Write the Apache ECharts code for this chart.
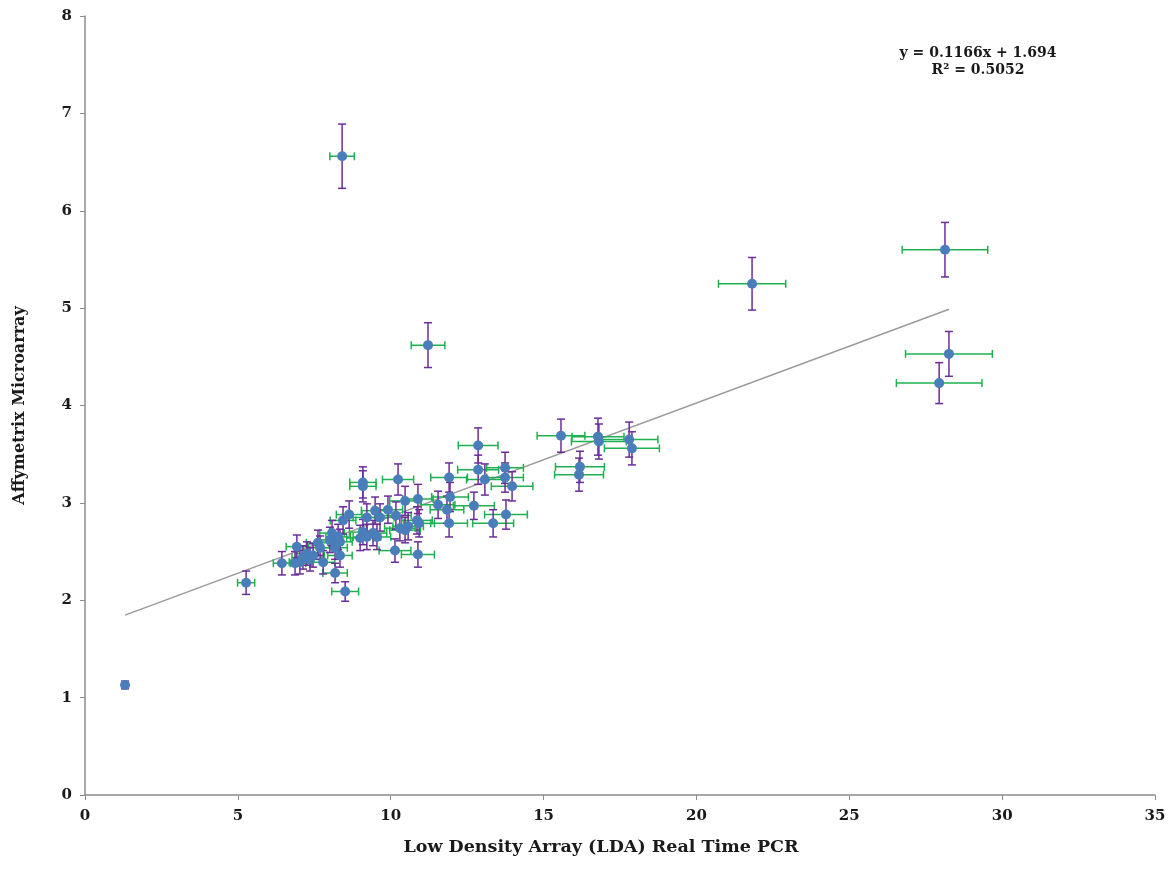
<!DOCTYPE html>
<html>
<head>
<meta charset="utf-8">
<script src="https://cdn.jsdelivr.net/npm/echarts@6/dist/echarts.min.js"></script>
<style>
  html, body { margin: 0; padding: 0; background: #fff; }
  #main { width: 1171px; height: 875px; }
</style>
</head>
<body>
<div id="main"></div>
<script>
// LDA real time PCR (x) vs Affymetrix microarray (y), with error bars
var ldaValues = [1.31, 5.27, 8.41, 11.22, 21.82, 28.13, 28.26, 27.94, 15.57, 16.78,
  16.81, 17.80, 17.89, 16.19, 16.16, 12.86, 12.86, 13.08, 13.74, 13.74,
  13.97, 11.91, 11.94, 11.55, 11.84, 12.72, 13.77, 11.91, 13.35, 10.93,
  10.89, 6.44, 6.93, 8.18, 8.51, 9.09, 9.09, 10.24, 10.47, 10.89,
  9.49, 9.22, 8.64, 8.44, 9.91, 10.17, 10.47, 10.86, 10.57, 9.42,
  9.22, 9.55, 9.00, 8.08, 8.28, 8.34, 8.01, 7.62, 7.69, 7.26,
  7.13, 7.46, 7.03, 6.87, 7.36, 7.79, 8.18, 8.34, 10.14, 9.65,
  10.30, 9.09];
var microValues = [1.13, 2.18, 6.56, 4.62, 5.25, 5.60, 4.53, 4.23, 3.69, 3.68,
  3.63, 3.65, 3.56, 3.37, 3.29, 3.59, 3.34, 3.24, 3.36, 3.26,
  3.17, 3.26, 3.06, 2.98, 2.93, 2.97, 2.88, 2.79, 2.79, 2.79,
  2.47, 2.38, 2.55, 2.28, 2.09, 3.21, 3.17, 3.24, 3.02, 3.04,
  2.92, 2.85, 2.88, 2.82, 2.93, 2.87, 2.72, 2.82, 2.76, 2.69,
  2.65, 2.65, 2.64, 2.69, 2.65, 2.60, 2.62, 2.59, 2.54, 2.48,
  2.44, 2.46, 2.39, 2.38, 2.42, 2.39, 2.54, 2.46, 2.51, 2.85,
  2.74, 2.70];
var ldaErrors = [0.05, 0.28, 0.40, 0.55, 1.10, 1.40, 1.42, 1.40, 0.78, 0.85,
  0.90, 0.94, 0.90, 0.80, 0.80, 0.65, 0.67, 0.60, 0.60, 0.60,
  0.68, 0.60, 0.60, 0.55, 0.55, 0.67, 0.70, 0.60, 0.67, 0.50,
  0.54, 0.28, 0.35, 0.40, 0.44, 0.43, 0.43, 0.51, 0.50, 0.50,
  0.45, 0.45, 0.42, 0.42, 0.48, 0.50, 0.50, 0.50, 0.50, 0.45,
  0.45, 0.45, 0.44, 0.40, 0.40, 0.40, 0.40, 0.38, 0.38, 0.36,
  0.36, 0.37, 0.35, 0.35, 0.36, 0.38, 0.40, 0.40, 0.52, 0.46,
  0.50, 0.44];
var microErrors = [0.04, 0.12, 0.33, 0.23, 0.27, 0.28, 0.23, 0.21, 0.17, 0.19,
  0.18, 0.18, 0.17, 0.16, 0.17, 0.18, 0.15, 0.16, 0.16, 0.15,
  0.15, 0.15, 0.15, 0.14, 0.14, 0.14, 0.15, 0.14, 0.14, 0.14,
  0.13, 0.12, 0.12, 0.10, 0.10, 0.16, 0.16, 0.16, 0.15, 0.15,
  0.14, 0.14, 0.14, 0.14, 0.14, 0.14, 0.13, 0.14, 0.14, 0.13,
  0.13, 0.13, 0.13, 0.13, 0.13, 0.13, 0.13, 0.13, 0.12, 0.12,
  0.12, 0.12, 0.12, 0.12, 0.12, 0.12, 0.12, 0.12, 0.12, 0.14,
  0.13, 0.13];
// linear trendline end points
var trendX = [1.31, 28.26];
var trendY = [1.847, 4.989];
var equationLines = ["y = 0.1166x + 1.694", "R\u00b2 = 0.5052"];

var FONT = "'DejaVu Serif', serif";
var GREEN = "#1fb04f";
var PURPLE = "#6a2d9a";

var points = ldaValues.map(function (x, i) { return [x, microValues[i]]; });
var xErrData = ldaValues.map(function (x, i) { return [x, microValues[i], ldaErrors[i]]; });
var yErrData = ldaValues.map(function (x, i) { return [x, microValues[i], microErrors[i]]; });

// error bar with end caps, horizontal (LDA) or vertical (microarray)
function errItem(horizontal, color) {
  return function (params, api) {
    var x = api.value(0), y = api.value(1), e = api.value(2);
    var a = horizontal ? api.coord([x - e, y]) : api.coord([x, y - e]);
    var b = horizontal ? api.coord([x + e, y]) : api.coord([x, y + e]);
    var cap = 4;
    var st = { stroke: color, lineWidth: 1.5 };
    var capA, capB;
    if (horizontal) {
      capA = { x1: a[0], y1: a[1] - cap, x2: a[0], y2: a[1] + cap };
      capB = { x1: b[0], y1: b[1] - cap, x2: b[0], y2: b[1] + cap };
    } else {
      capA = { x1: a[0] - cap, y1: a[1], x2: a[0] + cap, y2: a[1] };
      capB = { x1: b[0] - cap, y1: b[1], x2: b[0] + cap, y2: b[1] };
    }
    return {
      type: "group",
      children: [
        { type: "line", shape: { x1: a[0], y1: a[1], x2: b[0], y2: b[1] }, style: st },
        { type: "line", shape: capA, style: st },
        { type: "line", shape: capB, style: st }
      ]
    };
  };
}

var chart = echarts.init(document.getElementById("main"));
var option = {
  backgroundColor: "#fff",
  animation: false,
  grid: { left: 85, right: 16, top: 16, bottom: 80, containLabel: false },
  xAxis: {
    type: "value",
    min: 0, max: 35, interval: 5,
    name: "Low Density Array (LDA) Real Time PCR",
    nameLocation: "middle",
    nameGap: 43,
    nameTextStyle: { fontFamily: FONT, fontWeight: "bold", fontSize: 17.5, color: "#1a1a1a", padding: [0, 38, 0, 0] },
    axisLine: { lineStyle: { color: "#8c8c8c", width: 1.5 } },
    axisTick: { show: true, length: 5, lineStyle: { color: "#8c8c8c" } },
    axisLabel: { margin: 14, fontFamily: FONT, fontWeight: "bold", fontSize: 15, color: "#1a1a1a" },
    splitLine: { show: false }
  },
  yAxis: {
    type: "value",
    min: 0, max: 8, interval: 1,
    name: "Affymetrix Microarray",
    nameLocation: "middle",
    nameGap: 57,
    nameTextStyle: { fontFamily: FONT, fontWeight: "bold", fontSize: 16, color: "#1a1a1a" },
    axisLine: { show: true, lineStyle: { color: "#8c8c8c", width: 1.5 } },
    axisTick: { show: true, length: 5, lineStyle: { color: "#8c8c8c" } },
    axisLabel: { margin: 13, fontFamily: FONT, fontWeight: "bold", fontSize: 15, color: "#1a1a1a" },
    splitLine: { show: false }
  },
  graphic: [
    {
      type: "text", x: 978, y: 45,
      style: {
        text: equationLines.join("\n"), align: "center", textAlign: "center",
        font: "bold 14px " + FONT, fill: "#1a1a1a", lineHeight: 17
      }
    }
  ],
  series: [
    {
      type: "line",
      data: [[trendX[0], trendY[0]], [trendX[1], trendY[1]]],
      symbol: "none",
      lineStyle: { color: "#9a9a9a", width: 1.5 },
      z: 1
    },
    {
      type: "custom",
      data: xErrData,
      encode: { x: 0, y: 1 },
      renderItem: errItem(true, GREEN),
      z: 2
    },
    {
      type: "custom",
      data: yErrData,
      encode: { x: 0, y: 1 },
      renderItem: errItem(false, PURPLE),
      z: 3
    },
    {
      type: "scatter",
      data: points,
      symbolSize: 10,
      itemStyle: { color: "#4a7ebb", opacity: 1 },
      z: 4
    }
  ]
};
chart.setOption(option);
</script>
</body>
</html>
